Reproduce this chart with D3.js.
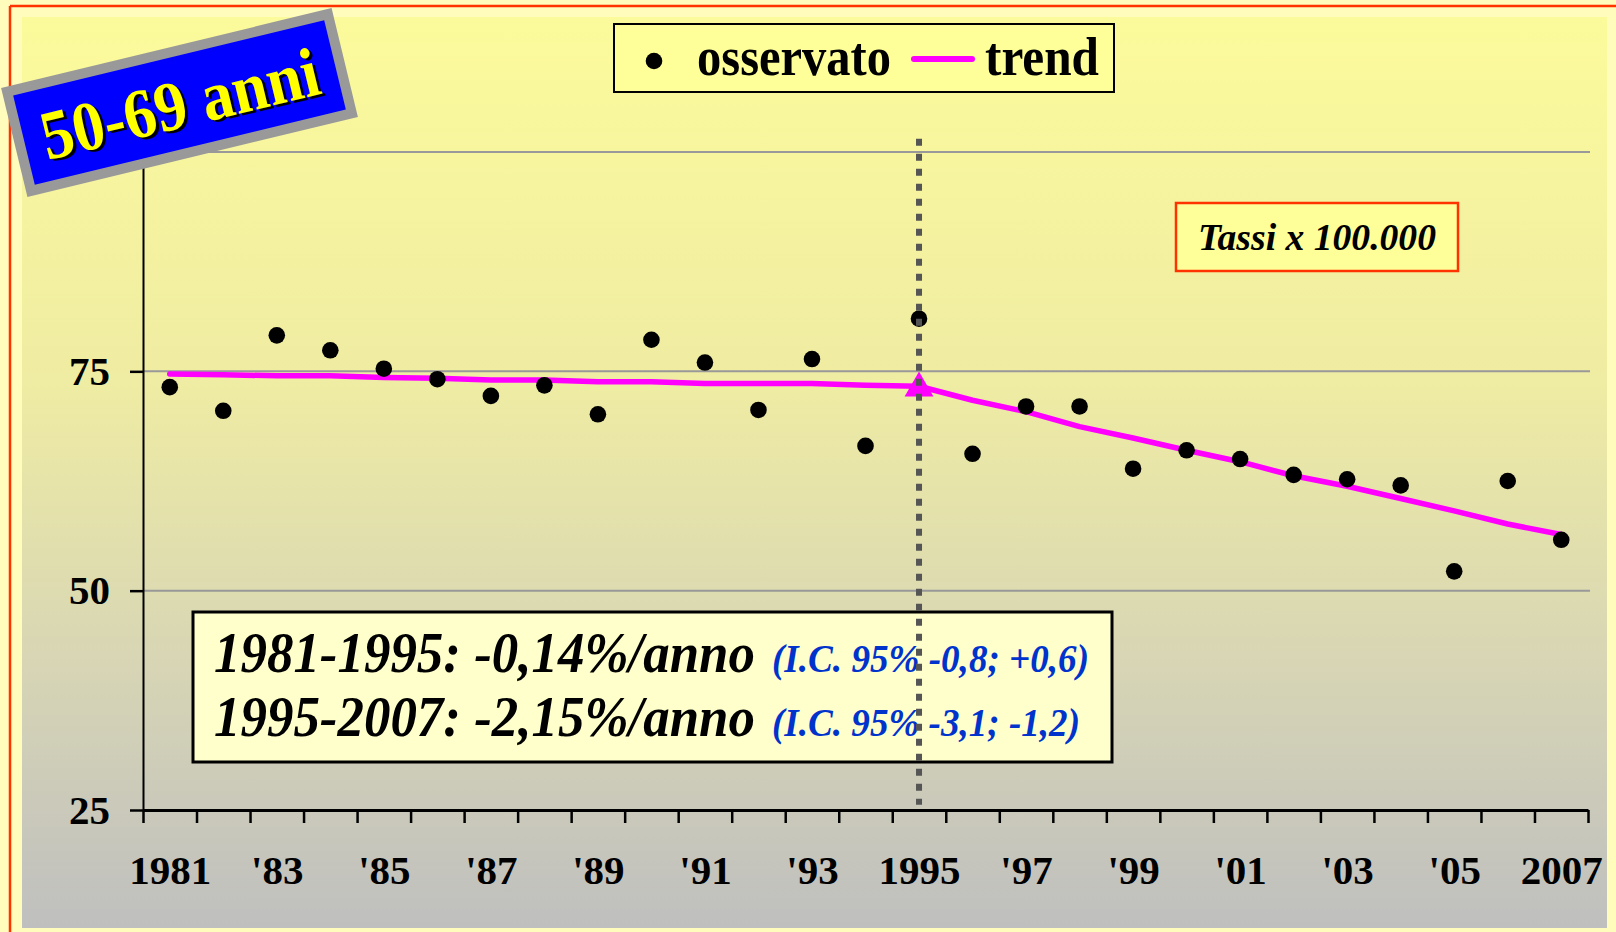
<!DOCTYPE html>
<html>
<head>
<meta charset="utf-8">
<script src="https://cdnjs.cloudflare.com/ajax/libs/d3/7.8.5/d3.min.js"></script>
<style>
  body { margin: 0; background: #fffcbc; }
  svg { display: block; }
  text { font-family: "Liberation Serif", "Times New Roman", serif; }
</style>
</head>
<body>
<div id="chart"></div>
<script>
// Years on the x axis
const years = [1981, 1982, 1983, 1984, 1985, 1986, 1987, 1988, 1989, 1990, 1991, 1992, 1993, 1994,
               1995, 1996, 1997, 1998, 1999, 2000, 2001, 2002, 2003, 2004, 2005, 2006, 2007];

// Observed rates (x 100.000)
const observed = [73.2, 70.5, 79.1, 77.4, 75.3, 74.1, 72.2, 73.4, 70.1, 78.6, 76.0, 70.6, 76.4, 66.5,
                  81.0, 65.6, 71.0, 71.0, 63.9, 66.0, 65.0, 63.2, 62.7, 62.0, 52.2, 62.5, 55.8];

// Joinpoint trend
const trend = [74.7, 74.6, 74.5, 74.5, 74.3, 74.2, 74.0, 74.0, 73.8, 73.8, 73.6, 73.6, 73.6, 73.4,
               73.3, 71.7, 70.4, 68.7, 67.4, 66.0, 64.7, 63.1, 61.9, 60.5, 59.1, 57.6, 56.4];

const joinYear = 1995;

// Tick labels
const xLabelYears = [1981, 1983, 1985, 1987, 1989, 1991, 1993, 1995, 1997, 1999, 2001, 2003, 2005, 2007];
const xLabels = ['1981', "'83", "'85", "'87", "'89", "'91", "'93", '1995', "'97", "'99", "'01", "'03", "'05", '2007'];
const yTicks = [25, 50, 75, 100];
const gridValues = [50, 75, 100];

const statLines = [
    { main: '1981-1995: -0,14%/anno', ci: '(I.C. 95% -0,8; +0,6)' },
    { main: '1995-2007: -2,15%/anno', ci: '(I.C. 95% -3,1; -1,2)' }
];

function drawChart() {
    const W = 1616, H = 932;
    const svg = d3.select('#chart').append('svg')
        .attr('width', W)
        .attr('height', H);

    const defs = svg.append('defs');
    const grad = defs.append('linearGradient')
        .attr('id', 'bg')
        .attr('x1', 0).attr('y1', 0).attr('x2', 0).attr('y2', 1);
    grad.append('stop').attr('offset', '0%').attr('stop-color', '#fcfb9b');
    grad.append('stop').attr('offset', '40%').attr('stop-color', '#efeca3');
    grad.append('stop').attr('offset', '70%').attr('stop-color', '#d8d6b4');
    grad.append('stop').attr('offset', '100%').attr('stop-color', '#bfbfbf');

    // outer page + red frame
    svg.append('rect')
        .attr('x', 0).attr('y', 0).attr('width', W).attr('height', H)
        .attr('fill', '#fffcbc');
    svg.append('line')
        .attr('x1', 10).attr('x2', W).attr('y1', 6).attr('y2', 6)
        .attr('stroke', '#ff3300').attr('stroke-width', 2.5);
    svg.append('line')
        .attr('x1', 10).attr('x2', 10).attr('y1', 6).attr('y2', H)
        .attr('stroke', '#ff3300').attr('stroke-width', 2.5);

    // chart panel
    svg.append('rect')
        .attr('x', 22).attr('y', 17).attr('width', 1585).attr('height', 911)
        .attr('fill', 'url(#bg)');

    // scales
    const x = d3.scaleLinear()
        .domain([years[0] - 0.5, years[years.length - 1] + 0.5])
        .range([143, 1588]);

    const y = d3.scaleLinear()
        .domain([25, 100])
        .range([810, 152]);

    // grid lines
    svg.append('g')
        .selectAll('line')
        .data(gridValues)
        .enter()
        .append('line')
        .attr('x1', x.range()[0])
        .attr('x2', x.range()[1] + 2)
        .attr('y1', d => y(d))
        .attr('y2', d => y(d))
        .attr('stroke', '#999999')
        .attr('stroke-width', 2);

    // y axis
    const yAxis = svg.append('g')
        .attr('transform', `translate(${x.range()[0]},0)`)
        .call(d3.axisLeft(y)
            .tickValues(yTicks)
            .tickSize(13)
            .tickSizeOuter(0)
            .tickPadding(20)
            .tickFormat(d3.format('d')));
    yAxis.select('.domain').attr('stroke', '#000').attr('stroke-width', 2);
    yAxis.selectAll('.tick line').attr('stroke', '#000').attr('stroke-width', 2.5);
    yAxis.selectAll('text')
        .attr('fill', '#000')
        .style('font-size', '41px')
        .style('font-weight', 'bold');

    // x axis: ticks between categories
    const boundaries = years.map(d => d - 0.5).concat([years[years.length - 1] + 0.5]);
    const xAxis = svg.append('g')
        .attr('transform', `translate(0,${y(25)})`)
        .call(d3.axisBottom(x)
            .tickValues(boundaries)
            .tickSize(13)
            .tickSizeOuter(0)
            .tickFormat(''));
    xAxis.select('.domain').attr('stroke', '#000').attr('stroke-width', 3);
    xAxis.selectAll('.tick line').attr('stroke', '#000').attr('stroke-width', 2.5);

    // x labels
    const xLab = svg.append('g')
        .attr('transform', `translate(0,${y(25)})`)
        .call(d3.axisBottom(x)
            .tickValues(xLabelYears)
            .tickSize(0)
            .tickPadding(45)
            .tickFormat((d, i) => xLabels[i]));
    xLab.select('.domain').remove();
    xLab.selectAll('text')
        .attr('fill', '#000')
        .style('font-size', '41px')
        .style('font-weight', 'bold');

    // trend line
    const line = d3.line()
        .x((d, i) => x(years[i]))
        .y(d => y(d));
    svg.append('path')
        .datum(trend)
        .attr('d', line)
        .attr('fill', 'none')
        .attr('stroke', '#ff00ff')
        .attr('stroke-width', 5.5)
        .attr('stroke-linejoin', 'round')
        .attr('stroke-linecap', 'round');

    // observed points
    svg.append('g')
        .selectAll('circle')
        .data(observed)
        .enter()
        .append('circle')
        .attr('cx', (d, i) => x(years[i]))
        .attr('cy', d => y(d))
        .attr('r', 8.3)
        .attr('fill', '#000');

    // joinpoint marker
    const ji = years.indexOf(joinYear);
    svg.append('path')
        .attr('d', d3.symbol().type(d3.symbolTriangle).size(360)())
        .attr('transform', `translate(${x(joinYear)},${y(trend[ji]) + 2})`)
        .attr('fill', '#ff00ff');

    // stats box
    const stats = svg.append('g');
    stats.append('rect')
        .attr('x', 193).attr('y', 612).attr('width', 919).attr('height', 150)
        .attr('fill', '#ffffcc')
        .attr('stroke', '#000')
        .attr('stroke-width', 3);
    statLines.forEach((s, i) => {
        const by = 672 + i * 64;
        stats.append('text')
            .attr('x', 214).attr('y', by)
            .attr('textLength', 541)
            .attr('lengthAdjust', 'spacingAndGlyphs')
            .style('font-size', '56px')
            .style('font-weight', 'bold')
            .style('font-style', 'italic')
            .attr('fill', '#000')
            .text(s.main);
        stats.append('text')
            .attr('x', 772).attr('y', by)
            .attr('textLength', i === 0 ? 317 : 308)
            .attr('lengthAdjust', 'spacingAndGlyphs')
            .style('font-size', '41px')
            .style('font-weight', 'bold')
            .style('font-style', 'italic')
            .attr('fill', '#0033cc')
            .text(s.ci);
    });

    // vertical dashed line at joinpoint
    svg.append('line')
        .attr('x1', x(joinYear)).attr('x2', x(joinYear))
        .attr('y1', y(101.5)).attr('y2', y(25.6))
        .attr('stroke', '#555555')
        .attr('stroke-width', 6)
        .attr('stroke-dasharray', '7,8');

    // legend
    const legend = svg.append('g');
    legend.append('rect')
        .attr('x', 614).attr('y', 24).attr('width', 500).attr('height', 68)
        .attr('fill', '#ffff99')
        .attr('stroke', '#000')
        .attr('stroke-width', 2);
    legend.append('circle')
        .attr('cx', 654).attr('cy', 61).attr('r', 8.3)
        .attr('fill', '#000');
    legend.append('text')
        .attr('x', 697).attr('y', 75)
        .attr('textLength', 194)
        .attr('lengthAdjust', 'spacingAndGlyphs')
        .style('font-size', '54px')
        .style('font-weight', 'bold')
        .attr('fill', '#000')
        .text('osservato');
    legend.append('line')
        .attr('x1', 914).attr('x2', 972).attr('y1', 59).attr('y2', 59)
        .attr('stroke', '#ff00ff')
        .attr('stroke-width', 6)
        .attr('stroke-linecap', 'round');
    legend.append('text')
        .attr('x', 985).attr('y', 75)
        .attr('textLength', 114)
        .attr('lengthAdjust', 'spacingAndGlyphs')
        .style('font-size', '54px')
        .style('font-weight', 'bold')
        .attr('fill', '#000')
        .text('trend');

    // units note
    const note = svg.append('g');
    note.append('rect')
        .attr('x', 1176).attr('y', 203).attr('width', 282).attr('height', 68)
        .attr('fill', '#ffff99')
        .attr('stroke', '#ff3300')
        .attr('stroke-width', 2.5);
    note.append('text')
        .attr('x', 1198).attr('y', 250)
        .attr('textLength', 238)
        .attr('lengthAdjust', 'spacingAndGlyphs')
        .style('font-size', '38px')
        .style('font-weight', 'bold')
        .style('font-style', 'italic')
        .attr('fill', '#000')
        .text('Tassi x 100.000');

    // age group badge
    const badge = svg.append('g')
        .attr('transform', 'translate(179.5,102.5) rotate(-13.6)');
    badge.append('rect')
        .attr('x', -165).attr('y', -51).attr('width', 330).attr('height', 102)
        .attr('fill', '#0000ff')
        .attr('stroke', '#999999')
        .attr('stroke-width', 10);
    badge.append('text')
        .attr('x', 2.5).attr('y', 27.5)
        .attr('text-anchor', 'middle')
        .attr('textLength', 284)
        .attr('lengthAdjust', 'spacingAndGlyphs')
        .style('font-size', '70px')
        .style('font-weight', 'bold')
        .attr('fill', '#000')
        .text('50-69 anni');
    badge.append('text')
        .attr('x', 0).attr('y', 25)
        .attr('text-anchor', 'middle')
        .attr('textLength', 284)
        .attr('lengthAdjust', 'spacingAndGlyphs')
        .style('font-size', '70px')
        .style('font-weight', 'bold')
        .attr('fill', '#ffff00')
        .text('50-69 anni');
}

drawChart();
</script>
</body>
</html>
